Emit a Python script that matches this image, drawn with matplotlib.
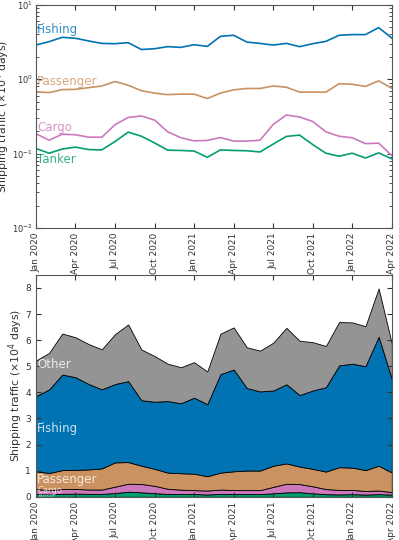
import numpy as np
import matplotlib.pyplot as plt

months = ['Jan 2020', 'Apr 2020', 'Jul 2020', 'Oct 2020', 'Jan 2021', 'Apr 2021',
          'Jul 2021', 'Oct 2021', 'Jan 2022', 'Apr 2022']

fishing = [2.88, 3.20, 3.66, 3.55, 3.27, 3.03, 3.00, 3.10, 2.51, 2.57, 2.74, 2.68, 2.91, 2.76,
           3.77, 3.90, 3.16, 3.03, 2.88, 3.03, 2.74, 3.00, 3.23, 3.90, 3.98, 3.98, 4.94, 3.58]
passenger = [0.675, 0.66, 0.725, 0.73, 0.77, 0.81, 0.93, 0.83, 0.70, 0.65, 0.62, 0.63, 0.63, 0.55,
             0.65, 0.72, 0.75, 0.75, 0.81, 0.78, 0.67, 0.67, 0.67, 0.87, 0.855, 0.80, 0.95, 0.755]
cargo = [0.185, 0.151, 0.182, 0.179, 0.166, 0.166, 0.244, 0.306, 0.32, 0.282, 0.196, 0.163, 0.148, 0.15,
         0.164, 0.147, 0.147, 0.151, 0.246, 0.33, 0.31, 0.27, 0.196, 0.171, 0.163, 0.136, 0.138, 0.094]
tanker = [0.117, 0.101, 0.115, 0.122, 0.113, 0.112, 0.145, 0.194, 0.171, 0.139, 0.111, 0.11, 0.108, 0.089,
          0.112, 0.11, 0.109, 0.105, 0.134, 0.17, 0.177, 0.132, 0.101, 0.092, 0.101, 0.087, 0.102, 0.085]
other = [1.36, 1.40, 1.57, 1.53, 1.53, 1.53, 1.91, 2.17, 1.94, 1.75, 1.43, 1.38, 1.36, 1.25,
         1.55, 1.61, 1.56, 1.56, 1.83, 2.16, 2.08, 1.85, 1.58, 1.66, 1.58, 1.53, 1.85, 1.35]

c_fish = '#0173B2'
c_pass = '#CA9161'
c_cargo = '#CC78BC'
c_tank = '#029E73'
c_other = '#949494'

x = np.arange(len(fishing))
xt = np.arange(0, len(fishing), 3)

plt.rcParams['font.size'] = 7
plt.rcParams['axes.edgecolor'] = '#555555'
plt.rcParams['xtick.color'] = '#333333'
plt.rcParams['ytick.color'] = '#333333'

fig = plt.figure(figsize=(3.99, 5.40), dpi=100)
ax1 = fig.add_axes([0.09, 0.578, 0.892, 0.413])
ax2 = fig.add_axes([0.09, 0.080, 0.892, 0.411])

# log plot
ax1.plot(x, fishing, color=c_fish, lw=1.2)
ax1.plot(x, passenger, color=c_pass, lw=1.2)
ax1.plot(x, cargo, color=c_cargo, lw=1.2)
ax1.plot(x, tanker, color=c_tank, lw=1.2)
ax1.set_yscale('log')
ax1.set_ylim(1e-2, 1e1)
ax1.set_xlim(0, len(fishing) - 1)
ax1.text(0.1, 4.6, 'Fishing', color=c_fish, alpha=0.8, fontsize=8.5, va='center')
ax1.text(0.1, 0.93, 'Passenger', color=c_pass, alpha=0.8, fontsize=8.5, va='center')
ax1.text(0.1, 0.225, 'Cargo', color=c_cargo, alpha=0.8, fontsize=8.5, va='center')
ax1.text(0.1, 0.083, 'Tanker', color=c_tank, alpha=0.8, fontsize=8.5, va='center')

# stacked plot
ax2.stackplot(x, tanker, cargo, passenger, fishing, other,
              colors=[c_tank, c_cargo, c_pass, c_fish, c_other],
              edgecolor='black', linewidth=0.6)
ax2.set_xlim(0, len(fishing) - 1)
ax2.set_ylim(0, 8.5)
ax2.set_yticks(range(9))
ax2.text(0.1, 5.05, 'Other', color='white', alpha=0.8, fontsize=8.5, va='center')
ax2.text(0.1, 2.6, 'Fishing', color='white', alpha=0.8, fontsize=8.5, va='center')
ax2.text(0.1, 0.65, 'Passenger', color='white', alpha=0.8, fontsize=8.5, va='center')
ax2.text(0.1, 0.25, 'Cargo', color='white', alpha=0.7, fontsize=6, va='center')
ax2.text(0.1, 0.05, 'Tanker', color='white', alpha=0.6, fontsize=4, va='center')

for ax in (ax1, ax2):
    ax.set_xticks(xt)
    ax.set_xticklabels(months, rotation=90)
    ax.tick_params(which='both', direction='in', top=True, right=True, labelsize=6.5)
    ax.set_ylabel('Shipping traffic ($\\times10^4$ days)', fontsize=7.8, color='#333333')

ax1.tick_params(axis='y', labelsize=6, pad=2)
ax1.yaxis.set_label_coords(-0.066, 0.5)
ax2.yaxis.set_label_coords(-0.032, 0.5)

fig.savefig('out.png', dpi=100)
